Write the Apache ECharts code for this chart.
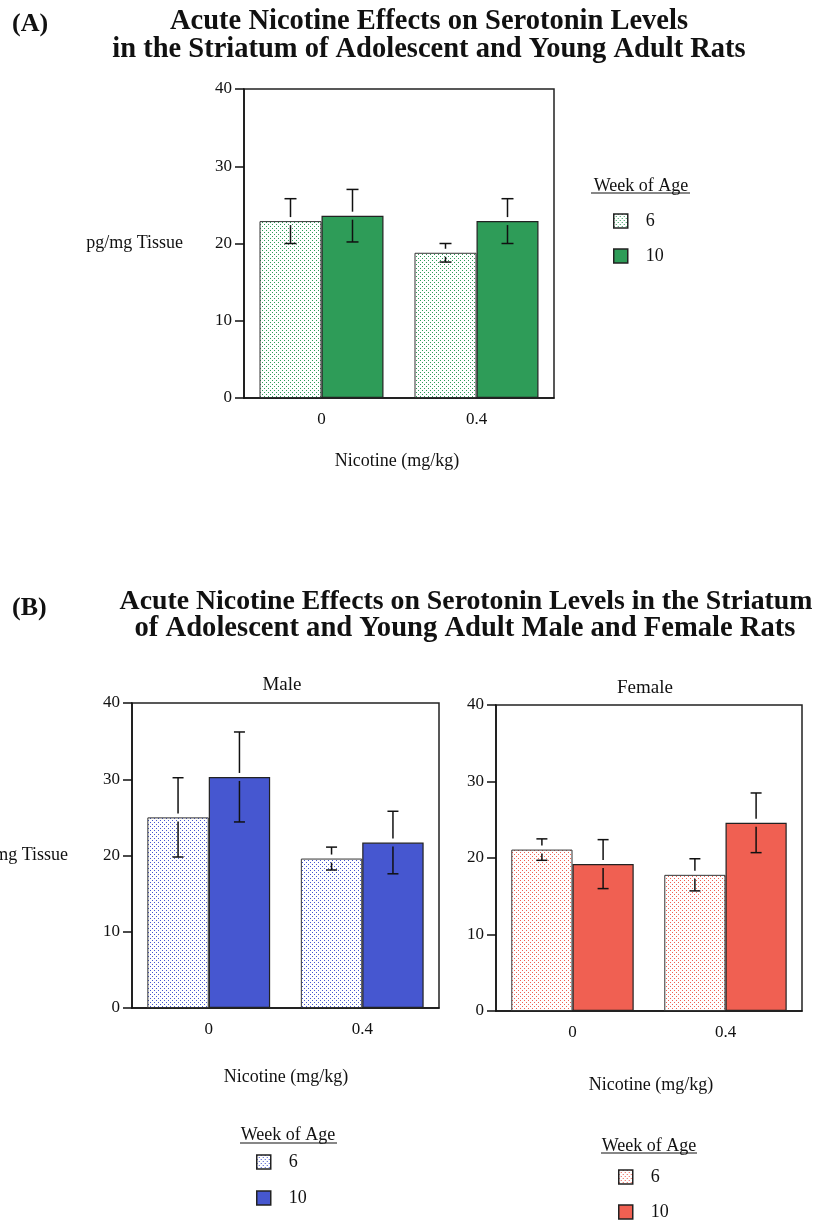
<!DOCTYPE html>
<html>
<head>
<meta charset="utf-8">
<script src="https://cdn.jsdelivr.net/npm/echarts@6/dist/echarts.min.js"></script>
<style>
  html, body { margin: 0; padding: 0; background: #fff; }
  #chart { width: 816px; height: 1220px; }
</style>
</head>
<body>
<div id="chart"></div>
<script>
// Nicotine dose categories (mg/kg)
const doses = ['0', '0.4'];
const yTicks = [0, 10, 20, 30, 40];

// (A) all rats, serotonin in striatum (pg/mg tissue), mean and SEM
const allWeek6 = [22.9, 18.8];
const allWeek6Err = [2.9, 1.2];
const allWeek10 = [23.6, 22.9];
const allWeek10Err = [3.4, 2.9];

// (B) males
const maleWeek6 = [25.0, 19.6];
const maleWeek6Err = [5.2, 1.5];
const maleWeek10 = [30.3, 21.7];
const maleWeek10Err = [5.9, 4.1];

// (B) females
const femaleWeek6 = [21.1, 17.8];
const femaleWeek6Err = [1.4, 2.1];
const femaleWeek10 = [19.2, 24.6];
const femaleWeek10Err = [3.2, 3.9];

const SERIF = "'Liberation Serif', 'Times New Roman', serif";
const INK = '#111';
const GREEN = '#2E9C58';
const BLUE = '#4657D0';
const RED = '#F06052';

// stippled fill used for the 6-week bars
function dots(color) {
  const c = document.createElement('canvas');
  c.width = 4; c.height = 4;
  const g = c.getContext('2d');
  g.fillStyle = '#fff';
  g.fillRect(0, 0, 4, 4);
  g.fillStyle = color;
  g.fillRect(0, 0, 1, 1);
  g.fillRect(2, 2, 1, 1);
  return { image: c, repeat: 'repeat' };
}

const panels = [
  { w6: allWeek6, e6: allWeek6Err, w10: allWeek10, e10: allWeek10Err, color: GREEN,
    grid: { left: 244, top: 89, width: 310, height: 309 }, cap: 12 },
  { w6: maleWeek6, e6: maleWeek6Err, w10: maleWeek10, e10: maleWeek10Err, color: BLUE,
    grid: { left: 132, top: 703, width: 307, height: 305 }, cap: 11 },
  { w6: femaleWeek6, e6: femaleWeek6Err, w10: femaleWeek10, e10: femaleWeek10Err, color: RED,
    grid: { left: 496, top: 705, width: 306, height: 306 }, cap: 11 }
];

// mean ± SEM whiskers, with a small break where they cross the bar top
function errorRenderer(capW) {
  return function (params, api) {
    const cat = api.value(0), val = api.value(1), err = api.value(2), side = api.value(3);
    const band = api.size([1, 0])[0];
    const mid = api.coord([cat, val]);
    const x = mid[0] + side * band * 0.2;
    const yHi = api.coord([cat, val + err])[1];
    const yLo = api.coord([cat, val - err])[1];
    const gap = 4;
    const style = { stroke: INK, lineWidth: 1.5 };
    const seg = (x1, y1, x2, y2) => ({ type: 'line', shape: { x1, y1, x2, y2 }, style });
    return {
      type: 'group',
      children: [
        seg(x, yHi, x, mid[1] - gap),
        seg(x, mid[1] + gap, x, yLo),
        seg(x - capW / 2, yHi, x + capW / 2, yHi),
        seg(x - capW / 2, yLo, x + capW / 2, yLo)
      ]
    };
  };
}

const grids = [], xAxes = [], yAxes = [], series = [];
panels.forEach((p, i) => {
  grids.push(Object.assign({ show: true, borderColor: '#222', borderWidth: 1.5, backgroundColor: 'transparent' }, p.grid));
  xAxes.push({
    type: 'category', gridIndex: i, data: doses,
    axisLine: { lineStyle: { color: INK, width: 1.5 } },
    axisTick: { alignWithLabel: true, length: 9, lineStyle: { color: INK, width: 1.5 } },
    axisLabel: { color: INK, fontFamily: SERIF, fontSize: 17, margin: 13 }
  });
  yAxes.push({
    type: 'value', gridIndex: i, min: yTicks[0], max: yTicks[yTicks.length - 1], interval: yTicks[1] - yTicks[0],
    axisLine: { show: true, lineStyle: { color: INK, width: 1.5 } },
    axisTick: { show: true, length: 9, lineStyle: { color: INK, width: 1.5 } },
    axisLabel: { color: INK, fontFamily: SERIF, fontSize: 17, margin: 12 },
    splitLine: { show: false }
  });
  series.push({
    name: '6', type: 'bar', xAxisIndex: i, yAxisIndex: i, data: p.w6,
    barGap: '0%', barCategoryGap: '20%',
    itemStyle: { color: dots(p.color), borderColor: '#333', borderWidth: 1 }
  });
  series.push({
    name: '10', type: 'bar', xAxisIndex: i, yAxisIndex: i, data: p.w10,
    barGap: '0%', barCategoryGap: '20%',
    itemStyle: { color: p.color, borderColor: '#222', borderWidth: 1.2 }
  });
  const errData = [];
  p.w6.forEach((v, k) => errData.push([k, v, p.e6[k], -1]));
  p.w10.forEach((v, k) => errData.push([k, v, p.e10[k], 1]));
  series.push({
    type: 'custom', xAxisIndex: i, yAxisIndex: i, z: 5, silent: true,
    renderItem: errorRenderer(p.cap), data: errData, encode: { x: 0, y: 1 }
  });
});

function legendFor(color, left, top, gap) {
  return {
    orient: 'vertical', left, top, height: 90, itemWidth: 14, itemHeight: 14, itemGap: gap, padding: 0,
    icon: 'rect', selectedMode: false,
    textStyle: { color: INK, fontFamily: SERIF, fontSize: 18, padding: [0, 0, 0, 13] },
    data: [
      { name: '6', itemStyle: { color: dots(color), borderColor: '#222', borderWidth: 1.5 } },
      { name: '10', itemStyle: { color: color, borderColor: '#222', borderWidth: 1.5 } }
    ]
  };
}

function txt(text, x, y, size, opts) {
  return {
    type: 'text', x, y,
    style: Object.assign({ text, fill: INK, font: size + 'px ' + SERIF, textAlign: 'center', textVerticalAlign: 'middle' }, opts || {})
  };
}
function bold(text, x, y, size, align) {
  return txt(text, x, y, size, { font: 'bold ' + size + 'px ' + SERIF, textAlign: align || 'center' });
}
function rule(x1, x2, y) {
  return { type: 'line', shape: { x1, y1: y, x2, y2: y }, style: { stroke: INK, lineWidth: 1.2 } };
}

const graphics = [
  bold('(A)', 12, 24, 26, 'left'),
  bold('Acute Nicotine Effects on Serotonin Levels', 429, 22, 28.5),
  bold('in the Striatum of Adolescent and Young Adult Rats', 429, 50, 28.5),
  txt('pg/mg Tissue', 183, 243, 18, { textAlign: 'right' }),
  txt('Nicotine (mg/kg)', 397, 461, 18),
  txt('Week of Age', 641, 186, 18),
  rule(591, 690, 193),

  bold('(B)', 12, 608, 26, 'left'),
  bold('Acute Nicotine Effects on Serotonin Levels in the Striatum', 466, 602, 27.8),
  bold('of Adolescent and Young Adult Male and Female Rats', 465, 629, 28.6),
  txt('Male', 282, 685, 19),
  txt('Female', 645, 688, 19),
  txt('pg/mg Tissue', 68, 855, 18, { textAlign: 'right' }),
  txt('Nicotine (mg/kg)', 286, 1077, 18),
  txt('Nicotine (mg/kg)', 651, 1085, 18),
  txt('Week of Age', 288, 1135, 18),
  rule(240, 337, 1143),
  txt('Week of Age', 649, 1146, 18),
  rule(601, 697, 1153)
];

const chart = echarts.init(document.getElementById('chart'), null, { renderer: 'canvas' });
chart.setOption({
  animation: false,
  backgroundColor: '#fff',
  grid: grids,
  xAxis: xAxes,
  yAxis: yAxes,
  series,
  legend: [
    legendFor(GREEN, 613, 212, 17),
    legendFor(BLUE, 256, 1153, 18),
    legendFor(RED, 618, 1168, 17)
  ],
  graphic: graphics
});
</script>
</body>
</html>
